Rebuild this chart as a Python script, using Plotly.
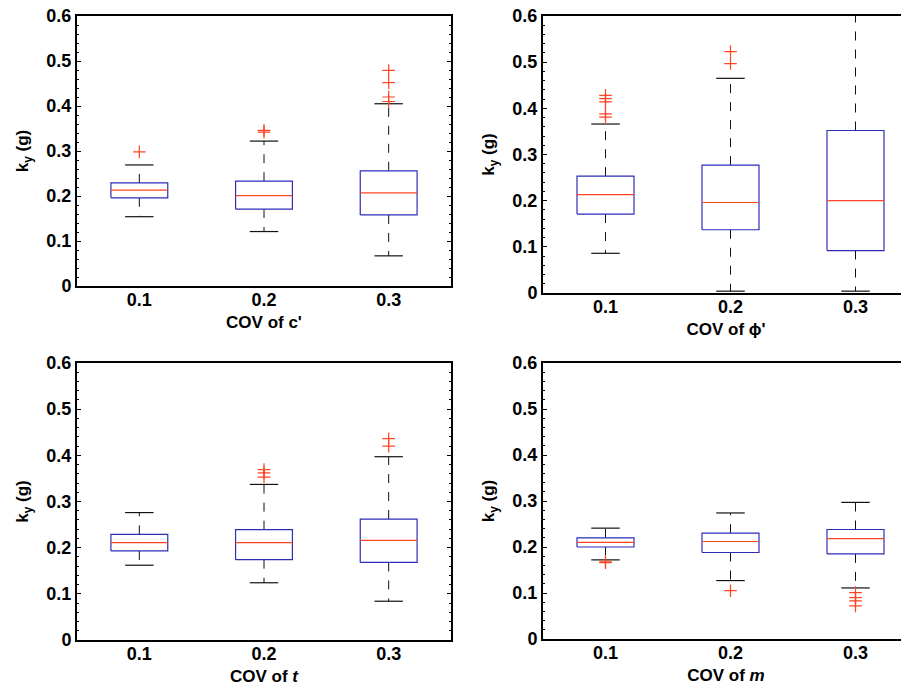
import plotly.graph_objects as go

# ---------------- data ----------------
cov_labels = ["0.1", "0.2", "0.3"]

# panel 1: COV of c'
c_q1 = [0.196, 0.171, 0.158]
c_med = [0.213, 0.201, 0.207]
c_q3 = [0.229, 0.233, 0.256]
c_low = [0.154, 0.121, 0.067]
c_up = [0.269, 0.322, 0.405]
c_out = [[0.298], [0.342, 0.346], [0.410, 0.420, 0.452, 0.479]]

# panel 2: COV of phi'
p_q1 = [0.171, 0.137, 0.092]
p_med = [0.213, 0.196, 0.200]
p_q3 = [0.253, 0.277, 0.352]
p_low = [0.086, 0.004, 0.004]
p_up = [0.366, 0.465, 0.640]
p_out = [[0.381, 0.388, 0.414, 0.421, 0.428], [0.497, 0.523], []]

# panel 3: COV of t
t_q1 = [0.193, 0.174, 0.168]
t_med = [0.211, 0.211, 0.216]
t_q3 = [0.229, 0.239, 0.262]
t_low = [0.162, 0.124, 0.084]
t_up = [0.276, 0.337, 0.397]
t_out = [[], [0.353, 0.362, 0.369], [0.420, 0.436]]

# panel 4: COV of m
m_q1 = [0.200, 0.188, 0.185]
m_med = [0.210, 0.212, 0.218]
m_q3 = [0.220, 0.230, 0.238]
m_low = [0.172, 0.127, 0.111]
m_up = [0.241, 0.274, 0.297]
m_out = [[0.166, 0.169], [0.105], [0.072, 0.083, 0.090, 0.101]]

y_ticks = [0, 0.1, 0.2, 0.3, 0.4, 0.5, 0.6]

# ---------------- styling / layout ----------------
# the page body adds an 8px margin, so the figure is 8px smaller each way
OFF = 8
W, H = 909 - OFF, 693 - OFF
BOX_C = "rgb(45,45,185)"
MED_C = "#ff4422"
WHISK_C = "#111111"
FONT = "Liberation Sans"
FS = 18
FT = 17
HALF_BOX = 0.228
HALF_CAP = 0.114
R2 = 0.5 + (909 - 543) / 125.0

panels = [
    dict(q1=c_q1, med=c_med, q3=c_q3, low=c_low, up=c_up, out=c_out,
         title="COV of c'", px=(77, 451), py=(16, 286), right=3.5, frame=True),
    dict(q1=p_q1, med=p_med, q3=p_q3, low=p_low, up=p_up, out=p_out,
         title="COV of ϕ'", px=(543, 909), py=(16, 293), right=R2, frame=False),
    dict(q1=t_q1, med=t_med, q3=t_q3, low=t_low, up=t_up, out=t_out,
         title="COV of <i>t</i>", px=(77, 451), py=(363, 640), right=3.5, frame=True),
    dict(q1=m_q1, med=m_med, q3=m_q3, low=m_low, up=m_up, out=m_out,
         title="COV of <i>m</i>", px=(543, 909), py=(363, 639), right=R2, frame=False),
]

fig = go.Figure()
layout = {}

for k, p in enumerate(panels):
    sfx = "" if k == 0 else str(k + 1)
    xa, ya = "x" + sfx, "y" + sfx
    for i in range(len(cov_labels)):
        pos = i + 1
        q1, med, q3 = p["q1"][i], p["med"][i], p["q3"][i]
        lo, up = p["low"][i], p["up"][i]
        # whiskers (dashed)
        fig.add_trace(go.Scatter(x=[pos, pos], y=[q3, up], mode="lines", xaxis=xa, yaxis=ya,
                                 line=dict(color=WHISK_C, width=1, dash="9px,9px"), hoverinfo="skip"))
        fig.add_trace(go.Scatter(x=[pos, pos], y=[q1, lo], mode="lines", xaxis=xa, yaxis=ya,
                                 line=dict(color=WHISK_C, width=1, dash="9px,9px"), hoverinfo="skip"))
        # caps
        for v in (lo, up):
            fig.add_trace(go.Scatter(x=[pos - HALF_CAP, pos + HALF_CAP], y=[v, v], mode="lines",
                                     xaxis=xa, yaxis=ya, line=dict(color=WHISK_C, width=1.2),
                                     hoverinfo="skip"))
        # box
        fig.add_trace(go.Scatter(x=[pos - HALF_BOX, pos + HALF_BOX, pos + HALF_BOX, pos - HALF_BOX, pos - HALF_BOX],
                                 y=[q1, q1, q3, q3, q1], mode="lines", xaxis=xa, yaxis=ya,
                                 fill="toself", fillcolor="white",
                                 line=dict(color=BOX_C, width=1.2), hoverinfo="skip"))
        # median
        fig.add_trace(go.Scatter(x=[pos - HALF_BOX, pos + HALF_BOX], y=[med, med], mode="lines",
                                 xaxis=xa, yaxis=ya, line=dict(color=MED_C, width=1.2), hoverinfo="skip"))
        # outliers
        outs = p["out"][i]
        if outs:
            fig.add_trace(go.Scatter(x=[pos] * len(outs), y=outs, mode="markers", xaxis=xa, yaxis=ya,
                                     marker=dict(symbol="cross-thin", size=9,
                                                 line=dict(color=MED_C, width=1.2)),
                                     hoverinfo="skip"))

    x0, x1 = (v - OFF for v in p["px"])
    y0, y1 = (v - OFF for v in p["py"])
    layout["xaxis" + sfx] = dict(
        domain=[x0 / W, min(x1 / W, 1.0)], anchor=ya, range=[0.5, p["right"]], automargin=False,
        tickmode="array", tickvals=[1, 2, 3], ticktext=cov_labels,
        ticks="", showgrid=False, zeroline=False, ticklabelstandoff=-4,
        showline=True, linecolor="black", linewidth=2, mirror=True,
        tickfont=dict(family=FONT, size=FS, color="black", weight="bold"),
        title=dict(text=p["title"], standoff=8,
                   font=dict(family=FONT, size=FT, color="black", weight="bold")),
    )
    layout["yaxis" + sfx] = dict(
        domain=[1 - y1 / H, 1 - y0 / H], anchor=xa, range=[0, 0.6], automargin=False,
        tickmode="array", tickvals=y_ticks, ticktext=[f"{v:g}" for v in y_ticks],
        ticklabeloverflow="allow",
        ticks="inside", ticklen=4, tickcolor="black", tickwidth=1,
        minor=dict(dtick=0.02, ticks="inside", ticklen=2, tickcolor="black", tickwidth=1, showgrid=False),
        showgrid=False, zeroline=False,
        showline=True, linecolor="black", linewidth=2,
        mirror="ticks" if p["frame"] else False,
        tickfont=dict(family=FONT, size=FS, color="black", weight="bold"),
        title=dict(text="k<sub>y</sub> (g)", standoff=13,
                   font=dict(family=FONT, size=FT, color="black", weight="bold")),
    )

fig.update_layout(
    template="none",
    width=W, height=H, margin=dict(l=0, r=0, t=0, b=0, autoexpand=False),
    paper_bgcolor="white", plot_bgcolor="white", showlegend=False,
    **layout,
)

fig.write_html("out.html")
